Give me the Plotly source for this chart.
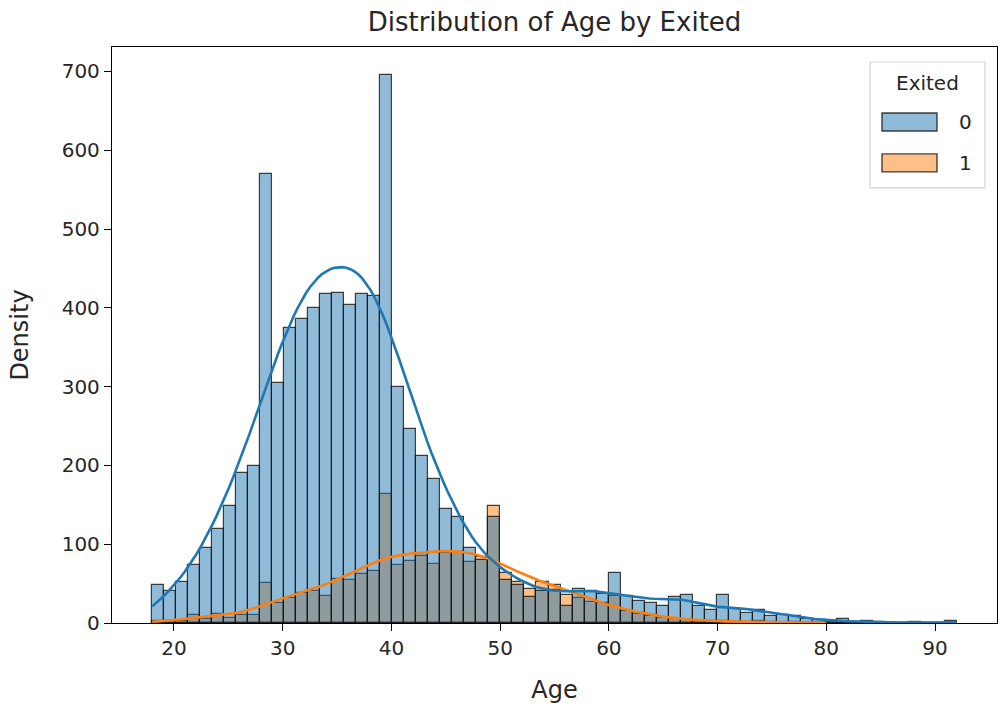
import numpy as np
import plotly.graph_objects as go

# ---- data: number of customers at each age, by Exited ----
ages = list(range(18, 93))
exited_0 = [21, 27, 41, 52, 74, 95, 119, 149, 191, 199,      # 18-27
            259, 311, 305, 374, 386, 400, 417, 419, 403, 417,  # 28-37
            415, 352, 343, 299, 246, 212, 183, 145, 134, 95,   # 38-47
            80, 71, 63, 55, 48, 33, 40, 42, 22, 43,            # 48-57
            41, 37, 33, 31, 34, 28, 25, 22, 33, 35,            # 58-67
            21, 17, 9, 27, 18, 13, 16, 9, 10, 9,               # 68-77
            5, 4, 2, 4, 1, 1, 2, 1, 0, 0,                      # 78-87
            1, 0, 0, 0, 2]                                     # 88-92
exited_1 = [2, 1, 2, 3, 10, 5, 12, 6, 10, 10,
            14, 37, 26, 32, 38, 40, 34, 56, 54, 62,
            66, 72, 92, 73, 79, 85, 75, 89, 90, 77,
            84, 74, 74, 64, 52, 43, 52, 48, 35, 32,
            27, 26, 18, 16, 15, 11, 9, 6, 5, 4,
            3, 3, 1, 2, 1, 1, 2, 1, 0, 1,
            0, 0, 1, 0, 0, 0, 0, 0, 0, 0,
            0, 0, 0, 0, 0]
groups = ["0", "1"]
x_ticks = [20, 30, 40, 50, 60, 70, 80, 90]
y_ticks = [0, 100, 200, 300, 400, 500, 600, 700]

N_BINS = 67
colors = {"0": (31, 119, 180), "1": (255, 127, 14)}
EDGE = "rgba(20,20,20,0.8)"

ages_arr = np.array(ages, dtype=float)
edges = np.linspace(ages_arr.min(), ages_arr.max(), N_BINS + 1)
centers = (edges[:-1] + edges[1:]) / 2
bw_bin = edges[1] - edges[0]


def hist(weights):
    h, _ = np.histogram(ages_arr, bins=edges, weights=np.array(weights, float))
    return h


def kde(weights):
    w = np.array(weights, float)
    n = w.sum()
    mask = w > 0
    mean = (ages_arr * w).sum() / n
    var = (w * (ages_arr - mean) ** 2).sum() / (n - 1)
    bw = np.sqrt(var) * n ** (-1 / 5)
    grid = np.linspace(ages_arr[mask].min(), ages_arr[mask].max(), 200)
    dens = (w[None, :] * np.exp(-0.5 * ((grid[:, None] - ages_arr[None, :]) / bw) ** 2)).sum(1)
    dens /= n * bw * np.sqrt(2 * np.pi)
    return grid, dens * n * bw_bin


data = {"0": exited_0, "1": exited_1}
fig = go.Figure()

# orange drawn first, blue layered on top (seaborn order)
for g in ["1", "0"]:
    r, gg, b = colors[g]
    fig.add_trace(go.Bar(
        x=centers, y=hist(data[g]), width=bw_bin, name=g, showlegend=False,
        marker=dict(color=f"rgba({r},{gg},{b},0.5)", line=dict(color=EDGE, width=1.2)),
    ))
for g in ["1", "0"]:
    r, gg, b = colors[g]
    gx, gy = kde(data[g])
    fig.add_trace(go.Scatter(x=gx, y=gy, mode="lines", showlegend=False,
                             line=dict(color=f"rgb({r},{gg},{b})", width=2.6)))

# ---- legend box (matplotlib style) in pixel-based paper coordinates ----
L, R, T, B = 112, 997, 47, 623.5
W, H = R - L, B - T
px = lambda x: (x - L) / W
py = lambda y: 1 - (y - T) / H

fig.add_shape(type="rect", xref="paper", yref="paper",
              x0=px(870), x1=px(985), y0=py(188), y1=py(62),
              fillcolor="rgba(255,255,255,0.8)", line=dict(color="#d4d4d4", width=1.2), layer="above")
fig.add_annotation(xref="paper", yref="paper", x=px(927), y=py(83), text="Exited",
                   showarrow=False, xanchor="center", yanchor="middle", font=dict(size=20))
for i, g in enumerate(groups):
    r, gg, b = colors[g]
    yc = 122 + 41 * i
    fig.add_shape(type="rect", xref="paper", yref="paper",
                  x0=px(882), x1=px(937), y0=py(yc + 9), y1=py(yc - 9),
                  fillcolor=f"rgba({r},{gg},{b},0.5)", line=dict(color=EDGE, width=1.4), layer="above")
    fig.add_annotation(xref="paper", yref="paper", x=px(957), y=py(yc), text=g,
                       showarrow=False, xanchor="left", yanchor="middle", font=dict(size=20))

font = "DejaVu Sans, sans-serif"
fig.update_layout(
    width=1000, height=709,
    margin=dict(l=112, r=3, t=47, b=86),
    paper_bgcolor="white", plot_bgcolor="white",
    barmode="overlay", bargap=0, showlegend=False,
    font=dict(family=font, size=20, color="#262626"),
    title=dict(text="Distribution of Age by Exited", x=0.5, xref="paper",
               y=1 - 22 / 709, yanchor="middle", font=dict(size=26, color="#262626")),
    xaxis=dict(range=[14.3, 95.7], tickvals=x_ticks, showgrid=False, zeroline=False,
               showline=True, mirror=True, linecolor="black", linewidth=1.3,
               ticks="outside", ticklen=7, tickwidth=1.3, tickcolor="black",
               title=dict(text="Age", standoff=22)),
    yaxis=dict(range=[0, 731], tickvals=y_ticks, showgrid=False, zeroline=False,
               showline=True, mirror=True, linecolor="black", linewidth=1.3,
               ticks="outside", ticklen=7, tickwidth=1.3, tickcolor="black",
               title=dict(text="Density", standoff=26)),
)

fig.write_html("out.html")
